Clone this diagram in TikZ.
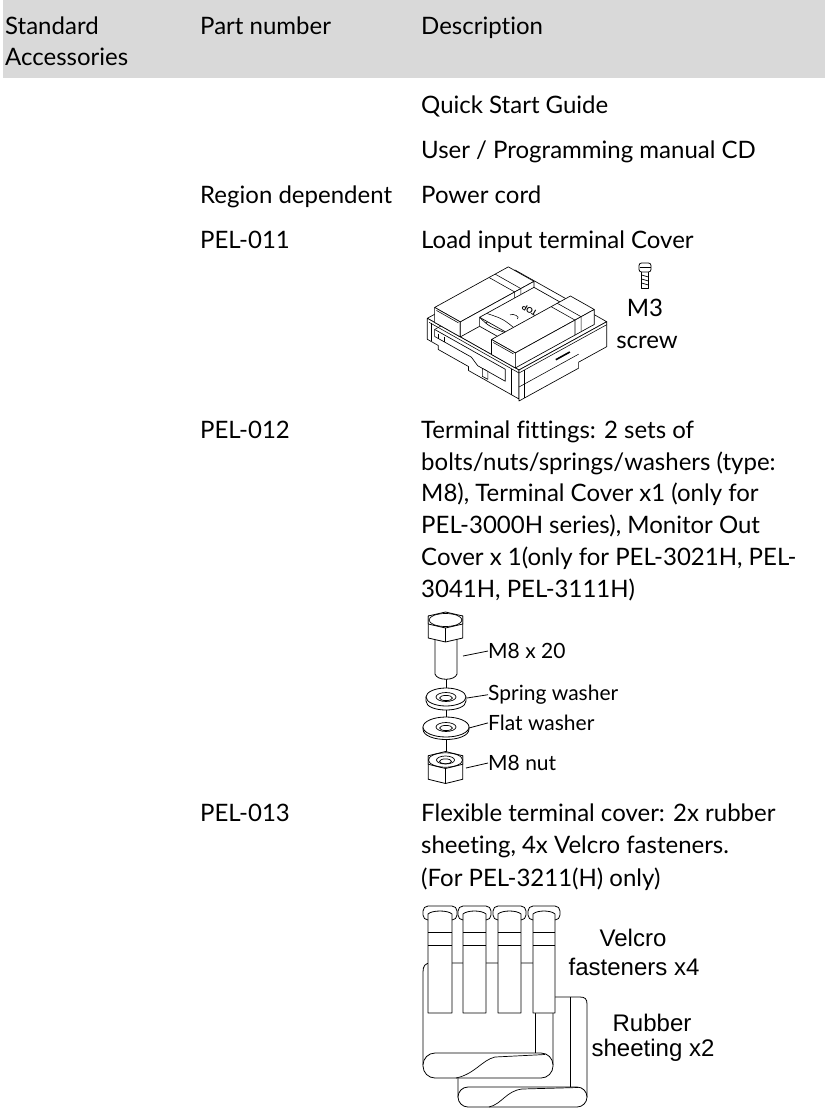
\documentclass[tikz,border=0pt]{standalone}
\usepackage{fontspec}
\setmainfont{Lato}[Ligatures=NoCommon]
\newfontfamily\arialfont{Liberation Sans}
\definecolor{hdrgrey}{HTML}{D9D9D9}
\begin{document}
\begin{tikzpicture}[x=1pt,y=-1pt,
  txt/.style={font=\fontsize{24}{28}\selectfont, inner sep=0pt, anchor=mid west},
  lbl/.style={font=\fontsize{21}{24}\selectfont, inner sep=0pt, anchor=mid west},
  vlbl/.style={font=\arialfont\fontsize{24}{28}\selectfont, inner sep=0pt, anchor=center},
  ctr/.style={font=\fontsize{24}{28}\selectfont, inner sep=0pt, anchor=center},
  part/.style={draw=black, fill=white, line width=0.8pt, line join=round},
  fine/.style={draw=black, line width=0.7pt, line join=round},
  leader/.style={draw=black, line width=0.8pt}]
\useasboundingbox (0,0) rectangle (825,1110);
% header band
\fill[hdrgrey] (3,0) rectangle (825,78);
\node[txt] (std) at (5,32) {Standard};
\node[txt] (acc) at (5,63) {Accessories};
\node[txt] (pn) at (200,32) {Part number};
\node[txt] (desc) at (421,32) {Description};
% rows
\node[txt] (qsg) at (421,111) {Quick Start Guide};
\node[txt] (upm) at (421,156) {User / Programming manual CD};
\node[txt] (rd) at (200,201) {Region dependent};
\node[txt] (pc) at (421,201) {Power cord};
\node[txt] (p011) at (200,246) {PEL-011};
\node[txt] (litc) at (421,246) {Load input terminal Cover};
\node[ctr] (m3) at (645,308) {M3};
\node[ctr] (scr) at (647,342) {screw};
% PEL-012
\node[txt] (p012) at (200,436) {PEL-012};
\node[txt] (d12a) at (421,436) {Terminal fittings: 2 sets of};
\node[txt] (d12b) at (421,468) {bolts/nuts/springs/washers (type:};
\node[txt] (d12c) at (421,499) {M8), Terminal Cover x1 (only for};
\node[txt] (d12d) at (421,531) {PEL-3000H series), Monitor Out};
\node[txt] (d12e) at (421,563) {Cover x 1(only for PEL-3021H, PEL-};
\node[txt] (d12f) at (421,595) {3041H, PEL-3111H)};
% PEL-013
\node[txt] (p013) at (200,819) {PEL-013};
\node[txt] (d13a) at (421,819) {Flexible terminal cover: 2x rubber};
\node[txt] (d13b) at (421,851) {sheeting, 4x Velcro fasteners.};
\node[txt] (d13c) at (421,884) {(For PEL-3211(H) only)};

% ---------- screw icon ----------
\filldraw[part] (641.5,271) rectangle (648.5,288);
\foreach \yy in {275,279,283} \draw[fine] (641.5,\yy) -- (648.5,\yy+2);
\filldraw[part, rounded corners=2.5] (639,263) rectangle (651,272);
\draw[fine] (639.5,267) -- (650.5,267);

% ---------- terminal cover (isometric) ----------
\begin{scope}[shift={(427.3,318.3)}, x={(87.7pt,48.3pt)}, y={(91.7pt,-51.7pt)}, z={(0pt,-1pt)},
  part/.append style={line width=0.65pt}, fine/.append style={line width=0.55pt}]
  % base top
  \filldraw[part] (0,0,0) -- (1,0,0) -- (1,1,0) -- (0,1,0) -- cycle;
  % left face
  \filldraw[part] (0,0,0) -- (0,1,0) -- (0,1,29) -- (0,0.45,29) -- (0,0.45,25) -- (0,0.12,25) -- (0,0.12,21) -- (0,0,21) -- cycle;
  \draw[fine] (0,0.02,3) -- (0,1,3);
  \draw[fine] (0,0.04,3) -- (0,0.04,21);
  \filldraw[part] (0,0.08,7) -- (0,0.85,7) -- (0,0.85,19) -- (0,0.55,19) -- (0,0.48,14) -- (0,0.08,14) -- cycle;
  \draw[fine] (0,0.08,7) -- (0.12,0.08,7);
  \draw[fine] (0,0.12,9) -- (0,0.12,14);
  \draw[fine] (0,0.18,9) -- (0,0.18,14);
  \filldraw[part] (0,0.6,19) -- (0,0.66,19) -- (0,0.66,27) -- (0,0.6,27) -- cycle;
  \draw[fine] (0,0.92,3) -- (0,0.92,29);
  % right face
  \filldraw[part] (0,1,0) -- (1,1,0) -- (1,1,25) -- (0.68,1,25) -- (0.68,1,31) -- (0,1,31) -- cycle;
  \draw[fine] (0,1,3) -- (1,1,3);
  \draw[fine] (0.06,1,3) -- (0.06,1,31);
  \draw[fine] (0,1,17) -- (0.68,1,17);
  \draw[line width=1.6pt] (0.42,1,10) -- (0.58,1,10);
  % left ridge
  \filldraw[part] (0,0.08,-15) -- (0.84,0.08,-15) -- (0.84,0.36,-15) -- (0,0.36,-15) -- cycle;
  \filldraw[part] (0,0.08,-15) -- (0,0.36,-15) -- (0,0.36,0) -- (0,0.08,0) -- cycle;
  \filldraw[part] (0,0.36,-15) -- (0.84,0.36,-15) -- (0.84,0.36,0) -- (0,0.36,0) -- cycle;
  \draw[fine] (0,0.1,-13) -- (0,0.34,-13);
  \draw[fine] (0.62,0.08,-15) -- (0.62,0.36,-15) -- (0.62,0.36,0);
  \draw[fine] (0.69,0.08,-15) -- (0.69,0.36,-15) -- (0.69,0.36,0);
  % middle block
  \filldraw[part] (0.22,0.36,-9) -- (0.84,0.36,-9) -- (0.84,0.7,-9) -- (0.22,0.7,-9) -- cycle;
  \filldraw[part] (0.22,0.36,-9) .. controls (0.18,0.5,-9) .. (0.22,0.7,-9) -- (0.22,0.7,0) -- (0.22,0.36,0) -- cycle;
  \draw[fine] (0.3,0.36,-9) .. controls (0.34,0.5,-9) .. (0.3,0.7,-9);
  \draw[fine] (0.42,0.5,-9) .. controls (0.46,0.5,-9) and (0.46,0.58,-9) .. (0.42,0.58,-9);
  \node[font=\bfseries\fontsize{8}{8}\selectfont, inner sep=0pt, rotate=150] (topl) at (0.58,0.56,-9) {TOP};
  % right ridge
  \filldraw[part] (0,0.7,-15) -- (0.9,0.7,-15) -- (0.9,0.96,-15) -- (0,0.96,-15) -- cycle;
  \filldraw[part] (0,0.7,-15) -- (0,0.96,-15) -- (0,0.96,0) -- (0,0.7,0) -- cycle;
  \filldraw[part] (0,0.96,-15) -- (0.9,0.96,-15) -- (0.9,0.96,0) -- (0,0.96,0) -- cycle;
  \draw[fine] (0,0.72,-13) -- (0,0.94,-13);
  \draw[fine] (0.68,0.7,-15) -- (0.68,0.96,-15) -- (0.68,0.96,0);
  \draw[fine] (0.75,0.7,-15) -- (0.75,0.96,-15) -- (0.75,0.96,0);
\end{scope}

% ---------- bolt assembly ----------
\draw[line width=0.6pt] (446,676) -- (446,752);
% shank
\filldraw[part] (435,636) -- (435,674) .. controls (437,681) and (455,681) .. (457,674) -- (457,636) -- cycle;
% head
\filldraw[part] (428.2,616) -- (428.2,638) -- (445.5,642) -- (462.8,638) -- (462.8,616) -- cycle;
\draw[part] (445.5,628) -- (445.5,642);
\filldraw[part] (462.8,624) -- (445.5,628) -- (428.2,624) -- (428.2,616) -- (445.5,612) -- (462.8,616) -- cycle;
\draw[fine] (445.5,620) ellipse [x radius=16.5, y radius=6.5];
% spring washer
\filldraw[part] (426,697) -- (426,701) .. controls (426,713) and (466,713) .. (466,701) -- (466,697) -- cycle;
\filldraw[part] (446,697) ellipse [x radius=20, y radius=9];
\draw[fine] (446,697) ellipse [x radius=10, y radius=4.5];
\draw[fine] (446,698) ellipse [x radius=6.5, y radius=2.6];
% flat washer
\filldraw[part] (423,727) -- (423,729) .. controls (423,743) and (469,743) .. (469,729) -- (469,727) -- cycle;
\filldraw[part] (446,727) ellipse [x radius=23, y radius=10];
\draw[fine] (446,727) ellipse [x radius=10, y radius=4.5];
\draw[fine] (446,728) ellipse [x radius=6.5, y radius=2.6];
% nut
\filldraw[part] (428.2,755.75) -- (428.2,779.25) -- (445.5,783.5) -- (462.8,779.25) -- (462.8,755.75) -- cycle;
\draw[part] (445.5,768.5) -- (445.5,783.5);
\filldraw[part] (462.8,764.25) -- (445.5,768.5) -- (428.2,764.25) -- (428.2,755.75) -- (445.5,751.5) -- (462.8,755.75) -- cycle;
\draw[fine] (445.5,760) ellipse [x radius=17, y radius=7.2];
\draw[fine] (445.5,760) ellipse [x radius=9, y radius=4];
\draw[fine] (445.5,761.3) ellipse [x radius=6, y radius=2.4];
% labels
\node[lbl] (m8x) at (488,656) {M8 x 20};
\node[lbl] (spw) at (488,698) {Spring washer};
\node[lbl] (flw) at (488,728) {Flat washer};
\node[lbl] (m8n) at (488,768) {M8 nut};
\coordinate (c1) at (463,656);
\coordinate (c2) at (467,698);
\coordinate (c3) at (469,728);
\coordinate (c4) at (466,768);
\draw[leader] (c1) -- (m8x.west);
\draw[leader] (c2) -- (spw.west);
\draw[leader] (c3) -- (flw.west);
\draw[leader] (c4) -- (m8n.west);

% ---------- velcro / rubber sheeting ----------
\filldraw[part] (458,1097) -- (458,997) -- (580,997) .. controls (585,997) and (587,999) .. (587,1004) -- (587,1097) -- cycle;
\draw[fine] (570,997) -- (570,1088);
\filldraw[part, rounded corners=10] (458,1087) rectangle (587,1107);
\draw[fine] (489,1107) .. controls (502,1104) and (506,1091) .. (522,1089) -- (578,1087.5);
\filldraw[part] (423,1065) -- (423,972) .. controls (423,966) and (425,963) .. (431,963) -- (553,963) -- (553,1065) -- cycle;
\draw[fine] (535,1013) -- (535,1053);
\filldraw[part, rounded corners=12] (423,1053) rectangle (553,1078);
\draw[fine] (456,1078) .. controls (475,1074) and (482,1060) .. (495,1057) -- (545,1054.5);
\foreach \xl/\xr in {428/452, 463/486, 498/521, 533/555} {
  \filldraw[part] (\xl,1013) -- (\xl,914) .. controls (\xl+4,910) and (\xr-4,910) .. (\xr,914) -- (\xr,1013) -- cycle;
  \draw[fine] (\xl,932) -- (\xr,932);
  \draw[fine] (\xl,945) -- (\xr,945);
  \draw[part, fill=none, rounded corners=5] (\xl,920) -- (\xl-5,920) -- (\xl-5,906) -- (\xr+5,906) -- (\xr+5,920) -- (\xr,920);
}
\node[vlbl] (velc) at (633,938) {Velcro};
\node[vlbl] (fast) at (634,967) {fasteners x4};
\node[vlbl] (rub) at (652,1023) {Rubber};
\node[vlbl] (shx) at (653,1050) {sheeting x2};
\end{tikzpicture}
\end{document}
